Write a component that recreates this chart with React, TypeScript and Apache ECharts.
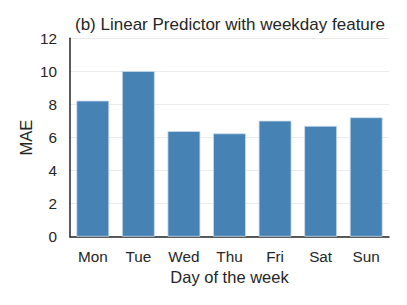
import React, { useEffect, useRef } from "react";
import * as echarts from "echarts";

const days = ["Mon", "Tue", "Wed", "Thu", "Fri", "Sat", "Sun"];
const mae = [8.23, 10.02, 6.39, 6.25, 7.02, 6.7, 7.22];

export default function App() {
  const ref = useRef<HTMLDivElement>(null);
  useEffect(() => {
    const chart = echarts.init(ref.current!, undefined, { renderer: "svg" });
    const font = "Liberation Sans, Arial, sans-serif";
    chart.setOption({
      animation: false,
      title: {
        text: "(b) Linear Predictor with weekday feature",
        left: 70,
        top: 16,
        padding: [0, 5, 0, 5],
        textStyle: { fontFamily: font, fontSize: 17, fontWeight: "normal", color: "#262626" },
      },
      grid: { left: 70, right: 18, top: 38.3, bottom: 68.3 },
      xAxis: {
        type: "category",
        data: days,
        name: "Day of the week",
        nameLocation: "middle",
        nameGap: 32,
        nameMoveOverlap: false,
        nameTextStyle: { fontFamily: font, fontSize: 16.5, color: "#262626" },
        axisLine: { lineStyle: { color: "#262626", width: 1.5 } },
        axisTick: { show: false },
        axisLabel: { fontFamily: font, fontSize: 15.3, color: "#262626", margin: 12 },
      },
      yAxis: {
        type: "value",
        min: 0,
        max: 12,
        interval: 2,
        name: "MAE",
        nameLocation: "middle",
        nameGap: 36,
        nameMoveOverlap: false,
        nameTextStyle: { fontFamily: font, fontSize: 16.5, color: "#262626" },
        axisLine: { show: true, lineStyle: { color: "#262626", width: 1.5 } },
        axisTick: { show: false },
        axisLabel: { fontFamily: font, fontSize: 15.3, color: "#262626", margin: 13 },
        splitLine: { lineStyle: { color: "#ebebeb", width: 1 } },
      },
      series: [
        {
          type: "bar",
          data: mae,
          barCategoryGap: "28%",
          itemStyle: { color: "#4682b4", borderColor: "#c9dcec", borderWidth: 0.8 },
        },
      ],
    });
    return () => chart.dispose();
  }, []);
  return <div ref={ref} style={{ width: 407, height: 305, position: "absolute", left: 0, top: 0 }} />;
}
